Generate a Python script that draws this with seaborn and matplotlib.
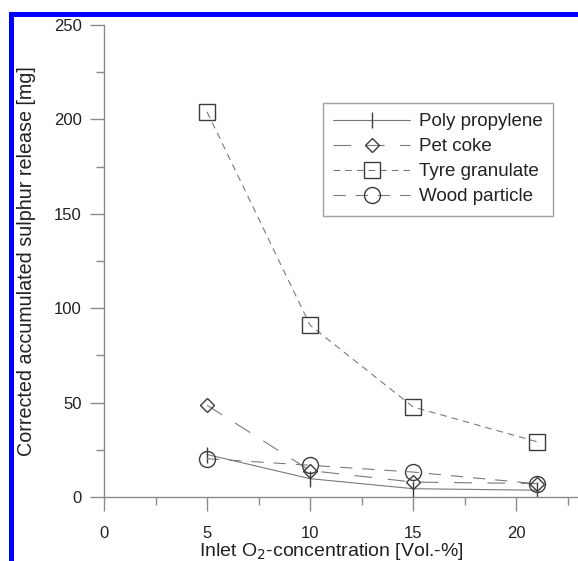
import matplotlib
matplotlib.use("Agg")
import matplotlib.pyplot as plt
import matplotlib.patches as mpatches
from matplotlib.ticker import MultipleLocator
import numpy as np
import pandas as pd
import seaborn as sns

# Inlet oxygen concentration [Vol.-%]
o2_conc = [5, 10, 15, 21]

# Corrected accumulated sulphur release [mg] per fuel
poly_propylene = [22.5, 9.7, 4.4, 3.6]
pet_coke = [48.6, 14.0, 7.9, 7.1]
tyre_granulate = [204.0, 91.0, 47.7, 29.3]
wood_particle = [20.3, 16.8, 13.2, 7.0]

series_names = ["Poly propylene", "Pet coke", "Tyre granulate", "Wood particle"]
series_values = [poly_propylene, pet_coke, tyre_granulate, wood_particle]

df = pd.DataFrame({
    "o2": np.tile(o2_conc, len(series_names)),
    "release": np.concatenate(series_values),
    "fuel": np.repeat(series_names, len(o2_conc)),
})

sns.set_theme(style="white")
plt.rcParams["font.family"] = ["Liberation Sans", "DejaVu Sans"]

W, H = 578, 561
fig = plt.figure(figsize=(W / 100, H / 100), dpi=100)
ax = fig.add_axes([104 / W, 1 - 497 / H, 474 / W, 472 / H])

line_color = "#7a7a7a"
marker_edge = "#3c3c3c"
styles = {
    "Poly propylene": dict(marker="|", markersize=11, linestyle="-", mew=1.0),
    "Pet coke": dict(marker="D", markersize=7.5, linestyle=(0, (16, 14)), mew=1.0),
    "Tyre granulate": dict(marker="s", markersize=11, linestyle=(0, (6, 4.5)), mew=1.0),
    "Wood particle": dict(marker="o", markersize=11.5, linestyle=(0, (11, 9)), mew=1.0),
}

for name in series_names:
    st = styles[name]
    sub = df[df["fuel"] == name]
    sns.lineplot(
        data=sub, x="o2", y="release", ax=ax, label=name,
        color=line_color, linewidth=0.8, linestyle=st["linestyle"],
        marker=st["marker"], markersize=st["markersize"],
        markerfacecolor="none", markeredgecolor=marker_edge, markeredgewidth=st["mew"],
    )

ax.set_xlim(0, 23)
ax.set_ylim(0, 250)
ax.xaxis.set_major_locator(MultipleLocator(5))
ax.xaxis.set_minor_locator(MultipleLocator(2.5))
ax.yaxis.set_major_locator(MultipleLocator(50))
ax.yaxis.set_minor_locator(MultipleLocator(25))

for side in ["top", "right"]:
    ax.spines[side].set_visible(False)
for side in ["left", "bottom"]:
    ax.spines[side].set_color("#8a8a8a")
    ax.spines[side].set_linewidth(1.0)

ax.tick_params(which="major", direction="out", length=10, width=1.0, color="#8a8a8a",
               labelsize=12, labelcolor="#222222", bottom=True, left=True)
ax.tick_params(axis="x", which="major", pad=11)
ax.tick_params(axis="y", which="major", pad=6)
ax.tick_params(which="minor", direction="out", length=5.5, width=1.0, color="#8a8a8a",
               bottom=True, left=True)

ax.set_xlabel("Inlet O$_2$-concentration [Vol.-%]", fontsize=14, color="#222222",
              labelpad=0)
ax.xaxis.set_label_coords((331 - 104) / 474, -0.094)
ax.set_ylabel("Corrected accumulated sulphur release [mg]", fontsize=14.2, color="#222222",
              labelpad=13)

leg = ax.legend(loc="upper left", bbox_to_anchor=(323 / W, 1 - 103 / H),
                bbox_transform=fig.transFigure, frameon=True, fancybox=False,
                fontsize=13.5, handlelength=4.1, handletextpad=0.45, borderpad=0.55,
                labelspacing=0.42, borderaxespad=0)
leg.get_frame().set_edgecolor("#8a8a8a")
leg.get_frame().set_linewidth(1.0)
for t in leg.get_texts():
    t.set_color("#222222")

# blue frame along the figure's top and left
frame = mpatches.Rectangle((10.5 / W, -0.2), 1.5, (H - 13.5) / H + 0.2,
                           transform=fig.transFigure, fill=False,
                           edgecolor="#0000ff", linewidth=3.6, clip_on=False)
fig.add_artist(frame)

fig.savefig("out.png", dpi=100)
